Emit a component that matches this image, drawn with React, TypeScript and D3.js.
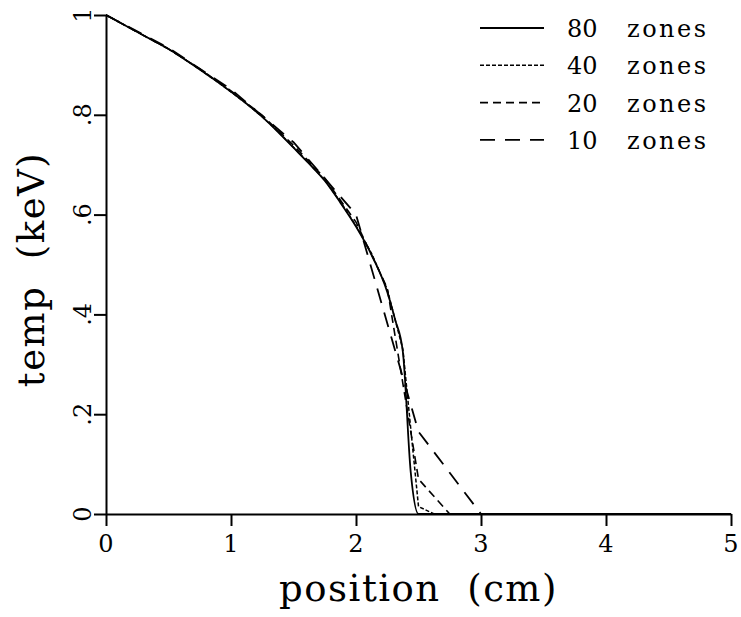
import React, { useEffect, useRef } from 'react';
import * as d3 from 'd3';

// zone counts shown in the legend
const seriesNames = ['80', '40', '20', '10'];

// 80 zones (finest run, smooth)
const zones80X = [0, 0.125, 0.25, 0.375, 0.5, 0.625, 0.75, 0.875, 1, 1.125, 1.25, 1.375, 1.5, 1.625, 1.75, 1.875, 2, 2.125, 2.25, 2.3125, 2.375, 2.4375, 2.5, 5];
const zones80Y = [1, 0.983, 0.966, 0.949, 0.932, 0.912, 0.891, 0.869, 0.846, 0.822, 0.796, 0.766, 0.734, 0.702, 0.668, 0.624, 0.576, 0.519, 0.445, 0.39, 0.325, 0.085, 0, 0];

// 40 zones
const zones40X = [0, 0.125, 0.25, 0.375, 0.5, 0.625, 0.75, 0.875, 1, 1.125, 1.25, 1.375, 1.5, 1.625, 1.75, 1.875, 2, 2.125, 2.25, 2.375, 2.5, 2.625, 5];
const zones40Y = [1, 0.983, 0.966, 0.949, 0.932, 0.912, 0.891, 0.869, 0.846, 0.822, 0.796, 0.767, 0.735, 0.703, 0.669, 0.626, 0.578, 0.522, 0.45, 0.33, 0.015, 0, 0];

// 20 zones
const zones20X = [0, 0.25, 0.5, 0.75, 1, 1.25, 1.5, 1.75, 2, 2.25, 2.5, 2.75, 5];
const zones20Y = [1, 0.966, 0.932, 0.892, 0.848, 0.799, 0.739, 0.673, 0.585, 0.453, 0.07, 0, 0];

// 10 zones
const zones10X = [0, 0.5, 1, 1.5, 2, 2.5, 3, 5];
const zones10Y = [1, 0.934, 0.851, 0.745, 0.6, 0.165, 0, 0];

const xTicks = [0, 1, 2, 3, 4, 5];
const xTickLabels = ['0', '1', '2', '3', '4', '5'];
const yTicks = [0, 0.2, 0.4, 0.6, 0.8, 1];
const yTickLabels = ['0', '.2', '.4', '.6', '.8', '1'];

const FONT = '"DejaVu Serif", serif';

const App = () => {
  const ref = useRef(null);

  useEffect(() => {
    const svg = d3.select(ref.current);
    svg.selectAll('*').remove();

    const x = d3.scaleLinear().domain([0, 5]).range([106, 731]);
    const y = d3.scaleLinear().domain([0, 1]).range([514, 15]);

    const series = [
      { name: seriesNames[0], xs: zones80X, ys: zones80Y, dash: null, width: 1.8, curve: d3.curveMonotoneX },
      { name: seriesNames[1], xs: zones40X, ys: zones40Y, dash: '4,2', width: 1.5, curve: d3.curveLinear },
      { name: seriesNames[2], xs: zones20X, ys: zones20Y, dash: '8,5', width: 1.6, curve: d3.curveLinear },
      { name: seriesNames[3], xs: zones10X, ys: zones10Y, dash: '15,10', width: 1.8, curve: d3.curveLinear },
    ];

    // axes
    const xAxis = svg.append('g')
      .attr('transform', `translate(0,${y(0)})`)
      .call(d3.axisBottom(x).tickValues(xTicks).tickSize(12).tickSizeOuter(0).tickFormat(() => ''));
    const yAxis = svg.append('g')
      .attr('transform', `translate(${x(0)},0)`)
      .call(d3.axisLeft(y).tickValues(yTicks).tickSize(12).tickSizeOuter(0).tickFormat(() => ''));
    [xAxis, yAxis].forEach(g => {
      g.selectAll('path, line').attr('stroke', '#000').attr('stroke-width', 2);
    });

    // tick labels
    svg.append('g')
      .selectAll('text')
      .data(xTicks)
      .enter().append('text')
      .attr('x', d => x(d))
      .attr('y', 552)
      .attr('text-anchor', 'middle')
      .attr('font-family', FONT)
      .attr('font-size', 24)
      .text((d, i) => xTickLabels[i]);

    svg.append('g')
      .selectAll('text')
      .data(yTicks)
      .enter().append('text')
      .attr('transform', d => `translate(91,${y(d)}) rotate(-90)`)
      .attr('text-anchor', 'middle')
      .attr('font-family', FONT)
      .attr('font-size', 24)
      .text((d, i) => yTickLabels[i]);

    // axis titles
    svg.append('text')
      .attr('x', x(2.5))
      .attr('y', 601)
      .attr('text-anchor', 'middle')
      .attr('font-family', FONT)
      .attr('font-size', 37)
      .attr('letter-spacing', 1.5)
      .style('white-space', 'pre')
      .text('position  (cm)');

    svg.append('text')
      .attr('transform', `translate(44,${y(0.49)}) rotate(-90)`)
      .attr('text-anchor', 'middle')
      .attr('font-family', FONT)
      .attr('font-size', 37)
      .attr('letter-spacing', 1.5)
      .style('white-space', 'pre')
      .text('temp  (keV)');

    // curves
    series.forEach(s => {
      const pts = s.xs.map((v, i) => [v, s.ys[i]]);
      const line = d3.line().x(d => x(d[0])).y(d => y(d[1])).curve(s.curve);
      svg.append('path')
        .attr('d', line(pts))
        .attr('fill', 'none')
        .attr('stroke', '#000')
        .attr('stroke-width', s.width)
        .attr('stroke-dasharray', s.dash);
    });

    // legend
    const legend = svg.append('g');
    series.forEach((s, i) => {
      const ly = 28 + i * 37.3;
      legend.append('line')
        .attr('x1', 480).attr('x2', 544)
        .attr('y1', ly).attr('y2', ly)
        .attr('stroke', '#000')
        .attr('stroke-width', s.width)
        .attr('stroke-dasharray', s.dash);
      legend.append('text')
        .attr('x', 567).attr('y', ly + 9)
        .attr('font-family', FONT)
        .attr('font-size', 24)
        .text(s.name);
      legend.append('text')
        .attr('x', 627).attr('y', ly + 9)
        .attr('font-family', FONT)
        .attr('font-size', 24)
        .attr('letter-spacing', 2.5)
        .text('zones');
    });
  }, []);

  return (
    <svg
      ref={ref}
      width={741}
      height={617}
      style={{ position: 'absolute', left: 0, top: 0, background: '#fff' }}
    />
  );
};

export default App;
